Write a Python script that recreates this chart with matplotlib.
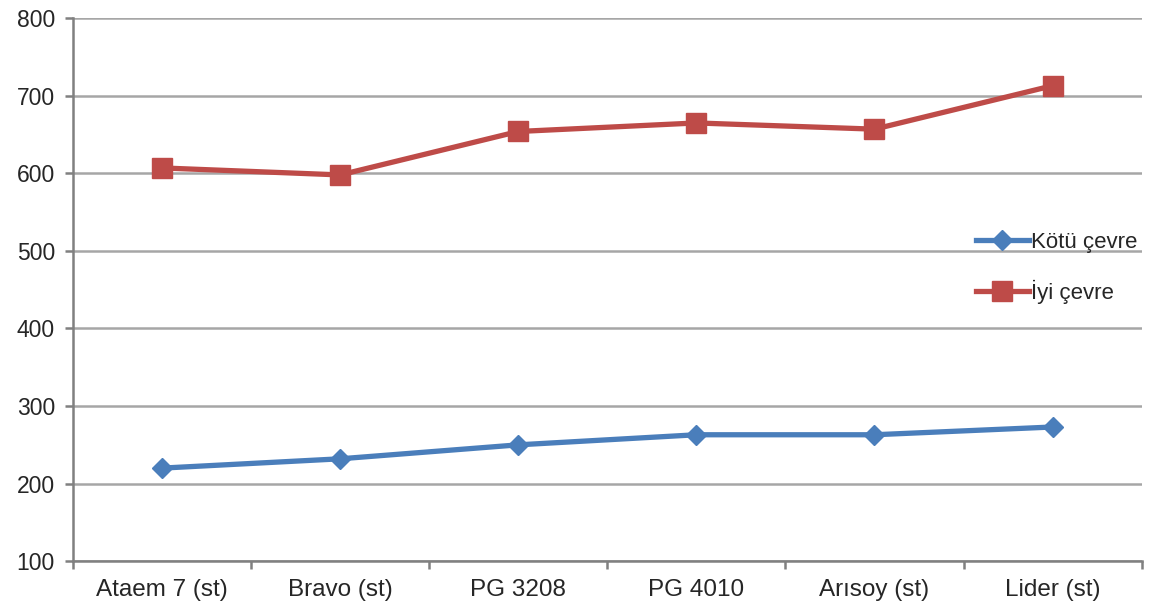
import matplotlib
matplotlib.use("Agg")
import matplotlib.pyplot as plt

categories = ["Ataem 7 (st)", "Bravo (st)", "PG 3208", "PG 4010", "Arısoy (st)", "Lider (st)"]
kotu_cevre = [220, 232, 250, 263, 263, 273]
iyi_cevre = [607, 598, 654, 665, 657, 713]
yticks = [100, 200, 300, 400, 500, 600, 700, 800]

plt.rcParams['font.family'] = ['Liberation Sans', 'DejaVu Sans']

fig = plt.figure(figsize=(11.59, 6.08), dpi=100)
ax = fig.add_axes([0.063, 0.077, 0.922, 0.893])

x = list(range(len(categories)))
ax.plot(x, kotu_cevre, color="#4A7EBB", lw=3.8, marker="D", ms=10,
        label="Kötü çevre", zorder=3)
ax.plot(x, iyi_cevre, color="#BE4B48", lw=3.8, marker="s", ms=14,
        label="İyi çevre", zorder=3)

ax.set_xlim(-0.5, len(categories) - 0.5)
ax.set_ylim(100, 800)
ax.set_yticks(yticks)
ax.set_xticks(x)
ax.set_xticklabels(categories)
ax.set_xticks([i - 0.5 for i in range(len(categories) + 1)], minor=True)
ax.tick_params(axis='x', which='major', length=0, labelsize=17.5, pad=13, colors="#262626")
ax.tick_params(axis='x', which='minor', length=6, width=1.8, color="#808080")
ax.tick_params(axis='y', length=6, width=1.8, color="#808080", labelsize=16.5, pad=7, labelcolor="#262626")

ax.yaxis.grid(True, color="#A6A6A6", lw=1.8)
ax.set_axisbelow(True)
for s in ["top", "right"]:
    ax.spines[s].set_visible(False)
for s in ["left", "bottom"]:
    ax.spines[s].set_color("#808080")
    ax.spines[s].set_linewidth(1.8)

leg = ax.legend(loc="center left", bbox_to_anchor=(0.826, 0.54), frameon=False,
                fontsize=16, handlelength=2.4, handletextpad=0.1, labelspacing=1.2,
                labelcolor="#262626")

fig.savefig("out.png", dpi=100)
